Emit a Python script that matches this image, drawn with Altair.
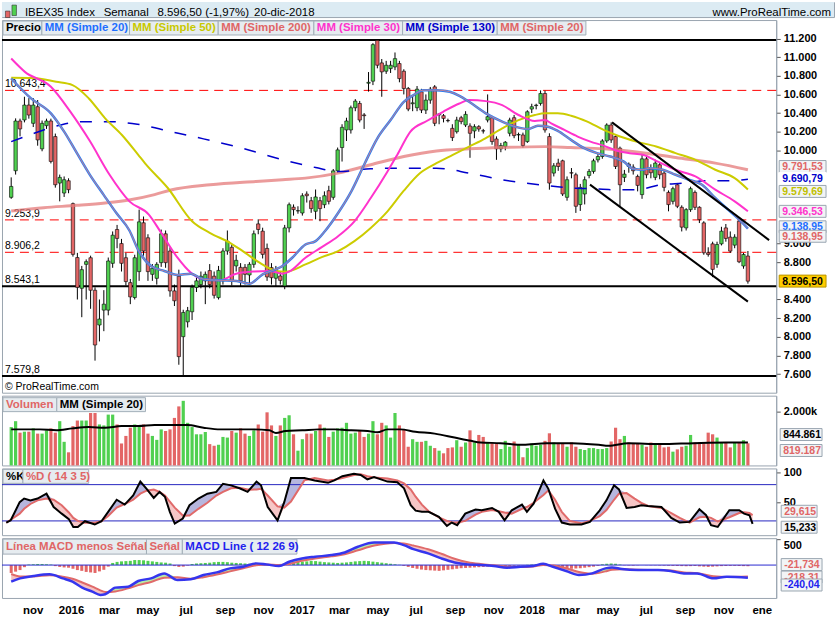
import altair as alt
import pandas as pd

FONT = "Liberation Sans"
W = 777
GREEN = "#50d050"
RED = "#e36666"
BASE = pd.Timestamp("2015-09-28")


def wk(i):
    return BASE + pd.Timedelta(days=7.0 * i)


# ---------------- weekly candles (IBEX35) ----------------
opens = [9496, 9781, 10315, 10326, 10486, 10290, 10468, 10016, 10265, 10315,
         10148, 9649, 9542, 9674, 9428, 8850, 8520, 8777, 8848, 8499,
         8126, 8286, 8286, 8788, 9151, 9000, 8848, 8581, 8421, 8699,
         9223, 9062, 8670, 8627, 8795, 9105, 8920, 8492, 8650, 8001,
         8160, 8268, 8528, 8560, 8600, 8710, 8650, 8420, 8600, 8920,
         8960, 8760, 8745, 8745, 8663, 8777, 9211, 9133, 8948, 8742,
         8628, 8652, 8545, 9168, 9390, 9350, 9328, 9531, 9460, 9346,
         9460, 9417, 9567, 9496, 9780, 10030, 10219, 10219, 10457, 10503,
         10380, 10720, 10742, 11180, 10938, 10849, 10877, 10895, 10931, 10849,
         10664, 10500, 10457, 10628, 10432, 10539, 10681, 10380, 10372, 10320,
         10236, 10200, 10350, 10272, 10261, 10208, 10254, 10210, 10325, 10350,
         10122, 10016, 10040, 10183, 10350, 10165, 10165, 10094, 10443, 10480,
         10503, 10610, 10148, 9756, 9863, 9888, 9496, 9760, 9738, 9418,
         9532, 9731, 9774, 9898, 9934, 10101, 10272, 10148, 10023, 9710,
         9852, 9820, 9720, 9525, 9909, 9800, 9710, 9845, 9756, 9549,
         9453, 9631, 9389, 9168, 9364, 9549, 9389, 9222, 8901, 8997,
         8777, 8997, 9168, 9069, 8983, 9240, 8759, 8866]
highs = [9710, 10343, 10340, 10575, 10560, 10560, 10540, 10320, 10340, 10340,
         10180, 9740, 9720, 9700, 9440, 8900, 8760, 8830, 8870, 8530,
         8400, 8500, 8850, 9130, 9200, 9050, 8900, 8620, 8880, 9364,
         9290, 9100, 8780, 8800, 9150, 9140, 8960, 8560, 8720, 8290,
         8320, 8560, 8640, 8700, 8700, 8780, 8700, 8760, 8950, 9140,
         8990, 8880, 8790, 8780, 8800, 9140, 9260, 9170, 9000, 8790,
         8760, 8700, 9200, 9440, 9420, 9400, 9540, 9560, 9500, 9580,
         9500, 9560, 9620, 9800, 10030, 10280, 10350, 10480, 10550, 10530,
         10400, 10840, 11150, 11184, 10980, 10960, 10960, 11050, 10960, 10870,
         10680, 10580, 10690, 10660, 10600, 10680, 10700, 10400, 10390, 10340,
         10280, 10360, 10370, 10420, 10290, 10280, 10270, 10230, 10600, 10370,
         10150, 10080, 10100, 10350, 10380, 10190, 10190, 10430, 10500, 10500,
         10643, 10640, 10183, 9863, 9910, 9900, 9720, 9810, 9760, 9640,
         9720, 9800, 9910, 9960, 10120, 10290, 10300, 10160, 10040, 9790,
         9870, 9850, 9740, 9960, 9930, 9850, 9900, 9870, 9780, 9570,
         9610, 9650, 9410, 9380, 9610, 9570, 9400, 9240, 8960, 9020,
         9020, 9180, 9210, 9130, 9100, 9270, 8900, 8920]
lows = [9480, 9740, 10150, 10300, 10340, 10250, 10050, 9990, 10230, 9860,
        9600, 9453, 9500, 9540, 8860, 8400, 8210, 8400, 8300, 7744,
        7950, 8060, 8230, 8740, 8950, 8700, 8550, 8350, 8400, 8600,
        8870, 8600, 8600, 8560, 8750, 8740, 8430, 8330, 7700, 7580,
        8100, 8180, 8480, 8520, 8350, 8520, 8410, 8400, 8560, 8880,
        8550, 8700, 8540, 8560, 8560, 8740, 9100, 8840, 8600, 8560,
        8540, 8560, 8510, 9120, 9300, 9320, 9300, 9440, 9330, 9260,
        9240, 9380, 9420, 9470, 9760, 9880, 10100, 10180, 10420, 10300,
        10230, 10630, 10700, 10880, 10575, 10820, 10830, 10860, 10730, 10600,
        10420, 10420, 10420, 10400, 10390, 10500, 10260, 10280, 10300, 10300,
        10100, 10180, 10280, 10250, 9920, 10130, 10200, 10180, 10300, 10060,
        9898, 9980, 10000, 10150, 10130, 10100, 10030, 10080, 10400, 10440,
        10480, 10190, 9578, 9720, 9780, 9510, 9460, 9700, 9329, 9350,
        9420, 9700, 9750, 9870, 9910, 10080, 10080, 9800, 9400, 9660,
        9760, 9740, 9560, 9480, 9700, 9700, 9680, 9690, 9560, 9346,
        9420, 9380, 9130, 9140, 9340, 9360, 9220, 8880, 8860, 8640,
        8740, 8980, 9020, 8900, 8950, 8790, 8730, 8570]
closes = [9613, 10315, 10230, 10486, 10379, 10486, 10112, 10290, 10315, 9881,
          9631, 9710, 9685, 9578, 8884, 8530, 8720, 8806, 8499, 7912,
          8190, 8350, 8813, 9090, 9055, 8788, 8592, 8428, 8848, 9233,
          8920, 8699, 8735, 8777, 9105, 8795, 8492, 8386, 7787, 8261,
          8280, 8530, 8600, 8650, 8670, 8560, 8445, 8712, 8920, 9026,
          8600, 8820, 8600, 8670, 8777, 9105, 9151, 8884, 8642, 8634,
          8720, 8605, 9168, 9417, 9364, 9353, 9513, 9513, 9375, 9500,
          9375, 9513, 9453, 9780, 10005, 10247, 10315, 10457, 10528, 10325,
          10372, 10730, 11134, 10913, 10842, 10913, 10913, 10984, 10770, 10664,
          10443, 10510, 10656, 10432, 10539, 10656, 10290, 10390, 10343, 10318,
          10137, 10325, 10308, 10386, 10183, 10254, 10229, 10208, 10361, 10094,
          10016, 10051, 10087, 10325, 10158, 10170, 10051, 10414, 10468, 10485,
          10610, 10219, 9649, 9834, 9827, 9532, 9685, 9756, 9400, 9603,
          9685, 9774, 9888, 9934, 10101, 10272, 10112, 9827, 9631, 9745,
          9827, 9781, 9624, 9909, 9738, 9760, 9863, 9738, 9603, 9418,
          9589, 9400, 9176, 9364, 9589, 9389, 9257, 8901, 8883, 8723,
          8990, 9133, 9055, 8919, 9069, 8805, 8883, 8596.5]
volume_k = [1418, 1636, 1212, 1248, 1248, 1370, 1176, 1176, 1297, 1370,
            1212, 1636, 873, 485, 1454, 1660, 1660, 1660, 1939, 1939,
            1515, 1479, 1879, 1879, 1515, 812, 1091, 1394, 1515, 1479,
            1515, 1176, 1091, 945, 1333, 1273, 1333, 1757, 2182, 2388,
            1576, 1418, 1151, 1151, 1236, 788, 727, 764, 1054, 1030,
            1273, 1212, 1370, 1176, 1091, 1297, 1515, 1248, 1963, 1479,
            1091, 1479, 1757, 1854, 1151, 545, 970, 1176, 1176, 1273,
            1515, 1394, 1054, 1248, 1370, 1394, 1576, 1176, 1212, 1273,
            1054, 1176, 1636, 1151, 1576, 1479, 1030, 1939, 1479, 1333,
            691, 970,
            873, 873, 909, 727, 642, 545, 448, 642, 667, 933,
            691, 848, 1297, 848, 1127, 1054, 848, 848, 812, 606,
            909, 691, 885, 788, 303, 642, 812, 727, 764, 909,
            1188, 848, 812, 812, 691, 848, 691, 606, 570, 642,
            642, 606, 606, 642, 885, 1394, 970, 1091, 848, 812,
            812, 764, 691, 848, 812, 764, 667, 691, 509, 594,
            691, 727, 1127, 848, 848, 812, 1212, 1151, 1030, 848,
            848, 667, 848, 848, 933, 819]
macd_hist = [-150, -125, -95, -40,
             10, 15, 20, 20, 15, 10,
             -20, -35, -45, -50,
             -70, -95, -110, -130, -140, -150, -120, -90,
             -30,
             40, 60, 70, 75, 80, 95, 95, 90, 80, 70, 60, 50, 45, 30,
             -20, -35, -30, -10,
             20, 30, 35, 40, 45, 55, 60, 60, 55, 45, 40, 35, 30, 25, 20, 15, 10,
             -5, -15, -20, -10, 10,
             40, 55, 60, 65, 70, 80, 75, 65, 55, 50, 45,
             40, 45, 50, 60, 70, 75, 80, 75, 65, 55, 45, 35, 25, 15, 5,
             -15, -35, -55, -70,
             -85, -95, -100, -105, -110, -100, -90, -80, -70, -60, -55, -50,
             -45, -40, -35, -30, -28, -25, -20, -18, -15, -12, -10, -5,
             5, 10, 15, 20, 10,
             -20, -40, -55, -65, -70, -70, -65, -60, -50, -40, -30, -15,
             15, 25, 30, 25, 10,
             -5, -8, -10, -5, 0, -3, -5, -5, -8,
             -10, -12, -15, -18, -20, -22, -20, -18, -25, -30, -35, -30, -25,
             -20, -18, -15, -15, -18, -20, -22]

# ---------------- moving averages (week index, value) ----------------
sma20_i = [0, 4.5, 9, 12, 14.9, 17.8, 21, 23.8, 26.8, 28.8, 31.7, 34.7, 37.7, 40.7, 43.6,
           47.3, 51.1, 54, 57, 60, 61.5, 63.7, 66.7, 69, 71.1, 74.1, 77.1, 80, 83, 86, 89,
           91.2, 93.4, 96.4, 99.4, 101.6, 103.8, 107.6, 111.3, 114.2, 117.2, 119.4, 121.7,
           123.9, 126.9, 129.9, 132.8, 135.8, 138.8, 141, 143.2, 144.7, 147.7, 150.6, 153.6,
           156.6, 159.6, 162.5, 164.8, 167]
sma20_v = [10771, 10557, 10397, 10201, 9970, 9740, 9520, 9330, 9140, 8930, 8759, 8706, 8663,
           8677, 8617, 8606, 8599, 8570, 8670, 8724, 8759, 8848, 8990, 9026, 9132, 9328, 9560,
           9845, 10129, 10325, 10521, 10593, 10646, 10646, 10628, 10585, 10521, 10397, 10308,
           10254, 10229, 10265, 10254, 10208, 10112, 10023, 9970, 9934, 9881, 9802, 9792, 9809,
           9792, 9738, 9685, 9631, 9489, 9364, 9268, 9161]
sma30_i = [0, 3.1, 9, 13.4, 17.9, 22.3, 26.8, 31.2, 34, 37.7, 40.7, 43.6, 47.3, 51, 54.8, 58.5,
           61.5, 63, 66.7, 70.4, 74.1, 77.8, 81.5, 85.3, 87.5, 90.5, 94.2, 97.9, 101.6, 103.8,
           107.6, 111.3, 115, 118.7, 121, 122.4, 125.4, 128.4, 131.3, 134.3, 137.3, 140.2,
           143.2, 146.2, 150.6, 155.1, 159.6, 164, 167]
sma30_v = [10985, 10842, 10682, 10415, 10094, 9738, 9453, 9311, 9115, 8848, 8688, 8617, 8606,
           8677, 8699, 8706, 8677, 8698, 8848, 8961, 9079, 9239, 9488, 9773, 9951, 10201, 10315,
           10414, 10503, 10539, 10528, 10485, 10379, 10315, 10325, 10290, 10219, 10148, 10094,
           10051, 9995, 9970, 9952, 9888, 9792, 9720, 9578, 9453, 9346]
sma50_i = [0, 5, 10.2, 13.9, 17.6, 21.3, 25.1, 28.8, 30.3, 35.5, 41, 45, 49.6, 52.5, 56.3, 60,
           62.2, 66.7, 70.4, 74.1, 77.8, 81.5, 85.3, 89, 92.7, 96.4, 100.1, 103.8, 107.5,
           111.3, 115, 118.7, 121, 123.9, 126.9, 130.6, 134.3, 138, 141.7, 146.2, 150.6,
           155.1, 159.6, 164, 167]
sma50_v = [10778, 10775, 10735, 10700, 10557, 10343, 10165, 9952, 9863, 9596, 9240, 9115, 9008,
           8919, 8795, 8706, 8698, 8776, 8855, 8919, 9026, 9168, 9346, 9567, 9756, 9862, 9951,
           10040, 10129, 10236, 10325, 10379, 10397, 10397, 10372, 10308, 10219, 10148, 10094,
           10041, 9970, 9898, 9792, 9702, 9580]
sma200_i = [0, 7.4, 14.9, 21.3, 27, 32.5, 36.2, 45.1, 55.5, 61.5, 66.7, 74.1, 81.5, 89, 96.4,
            103.8, 111.3, 121, 126.9, 134.3, 143.9, 150.6, 159.6, 167]
sma200_v = [9350, 9385, 9410, 9436, 9470, 9525, 9575, 9632, 9667, 9685, 9702, 9756, 9845, 9934,
            9994, 10016, 10030, 10040, 10030, 10016, 9970, 9923, 9863, 9792]
sma130_i = [0, 5.2, 11.2, 16.1, 22.3, 28.6, 36.2, 43.6, 51, 61.5, 69, 74.1, 81.5, 89, 96.4,
            103.8, 111.3, 121, 126.9, 131.3, 136.5, 141.7, 147.3, 152.5, 157.7, 162.9, 167]
sma130_v = [10094, 10183, 10272, 10308, 10308, 10280, 10201, 10123, 10041, 9899, 9816, 9773,
            9802, 9809, 9809, 9756, 9684, 9624, 9596, 9589, 9578, 9578, 9631, 9649, 9674, 9674,
            9690]

# volume moving average
vma_i = [0, 6.5, 10.2, 13.9, 17.6, 21.3, 25, 28.8, 32.5, 36.2, 39.9, 43.6, 47.4, 51.1, 54.8,
         58.5, 60, 62.2, 66, 69.7, 73.4, 77.1, 80.8, 83, 85.3, 88.2, 91.6, 96, 100.5, 104.2,
         106.4, 110.9, 116.1, 121.3, 127.2, 133.2, 135.4, 139.9, 147.3, 154.7, 162.2, 167]
vma_v = [1333, 1333, 1297, 1370, 1418, 1394, 1454, 1454, 1491, 1491, 1491, 1394, 1333, 1333,
         1333, 1297, 1200, 1273, 1297, 1333, 1333, 1297, 1273, 1224, 1333, 1333, 1248, 1176,
         1030, 909, 848, 824, 764, 824, 824, 764, 727, 824, 788, 824, 848, 845]

# stochastic %K / %D (14 3 5)
sto_i = [0, 1, 3, 4, 5.4, 7, 9, 10.6, 12.4, 14, 15, 16, 17.6, 19.8, 21.3, 22.8, 24.7, 26.5,
         28.4, 30, 31.4, 33, 34.3, 35.5, 36.6, 37.7, 39.5, 41, 43, 45, 47, 48.5, 50.3, 52.2,
         54, 56, 57, 58.5, 60.7, 62.2, 63.7, 66.7, 69, 72, 73.4, 75.2, 77.8, 79.3, 80.8, 82.3,
         85.3, 87.5, 89, 90.5, 91.6, 93, 94.5, 96.8, 98.6, 99.7, 100.9, 102.7, 105, 106.4,
         108.7, 110.2, 111.5, 113.1, 115.4, 116.5, 118, 120.2, 121.3, 122.8, 124.3, 126.1,
         128.7, 130.6, 132.8, 134.3, 136, 137.1, 138.8, 140.6, 142.1, 143.6, 146.6, 148.8,
         150.7, 152.9, 155.1, 156.6, 157.7, 159.2, 161.8, 164, 165.1, 166.3, 167]
sto_k = [17, 21, 51, 57, 54, 57, 65, 43, 32, 23, 10, 10, 19.5, 14, 19.5, 35, 55, 47, 62, 85,
         73, 58, 68, 60, 35, 15.6, 24, 46, 57, 65, 68, 81.5, 78.8, 74, 68, 85, 79, 43, 21, 51,
         91, 91, 87, 83, 87, 94, 98, 96, 88.6, 92.5, 85, 84, 74, 46, 37, 35, 35, 26.6, 11.8,
         17.3, 13, 32, 38.7, 37.6, 41.4, 35, 21, 37.6, 47, 35, 48.6, 87, 73, 40.3, 17.3, 14,
         14, 18.4, 37.6, 54, 78.8, 72, 41.4, 43, 45.8, 44.7, 43, 25, 17.3, 18.4, 39.2, 29.4,
         13, 10, 37.6, 37.6, 32, 29.4, 15.2]
sto_d = [17, 22, 32, 40, 48, 54, 57, 55, 46, 34, 25, 20, 17, 17, 19.5, 28, 42, 48, 55, 65,
         70, 72, 68, 62, 52, 42, 29, 29, 40, 50, 62, 68, 74, 75, 72, 72, 73, 62, 44, 42, 52,
         87, 91, 87, 88, 91, 96, 97, 94, 92, 90, 87, 82, 72, 60, 47, 36, 26, 20, 18, 17.5, 20,
         30.5, 35, 38, 36, 34, 32, 40, 43, 50, 63, 70.5, 55, 35, 20, 16, 20, 28, 38, 55, 65,
         66, 57, 50, 44.7, 41.4, 33, 25, 17.3, 26, 27, 25, 19, 26, 33, 34.5, 33, 29.6]

# MACD (12 26 9)
macd_i = [0, 2, 5, 8.7, 11.7, 13.9, 16.1, 18.4, 20.2, 21.3, 23.6, 26.5, 28.8, 31.7, 34.7,
          37.7, 40.7, 43.6, 46.6, 49.6, 52.6, 55.5, 57.8, 60.7, 63, 65.9, 68.9, 72.6, 75.6,
          78.6, 82.3, 86.8, 89, 91.2, 94.5, 97.5, 100.5, 103.5, 106.4, 109.4, 112.4, 115.4,
          118.3, 120.6, 122.8, 125.8, 128.7, 131.7, 134.7, 136.2, 138.4, 142.1, 146.6, 149.5,
          152.5, 155.5, 159.2, 162.2, 167]
macd_line = [-315, -252, -208, -176, -252, -315, -428, -504, -567, -554, -428, -410, -302,
             -252, -158, -284, -271, -189, -139, -63, -32, 32, 13, -19, 63, 126, 158, 189, 239,
             347, 428, 428, 378, 302, 221, 126, 50, 13, 0, -19, -50, -32, -19, 25, -32, -113,
             -189, -158, -63, -44, -76, -95, -95, -113, -158, -158, -252, -221, -240]
macd_signal = [-170, -215, -215, -195, -220, -260, -330, -410, -480, -510, -500, -440, -380,
               -320, -240, -230, -260, -230, -180, -120, -60, -5, 10, 0, 20, 80, 125, 165, 205,
               280, 370, 420, 410, 370, 300, 215, 120, 55, 20, -5, -30, -35, -25, 0, -10, -60,
               -130, -165, -120, -90, -80, -90, -95, -105, -140, -155, -210, -225, -218]

# horizontal levels (labelled on the left) and trend channel
level_v = [11184.4, 10643.4, 9253.9, 8906.2, 8543.1, 7579.8]
level_kind = ["solid", "dash", "dash", "dash", "solid", "solid"]
level_labelled = [False, True, True, True, True, True]
trend_i = [136.2, 171.8, 131.2, 167.0]
trend_p = [10300, 9037, 9632, 8377]
trend_g = ["upper", "upper", "lower", "lower"]

# price ticks whose labels are not hidden behind the last-value boxes
price_ticks = [11200, 11000, 10800, 10600, 10400, 10200, 10000, 9000, 8800, 8400, 8200, 8000,
               7800, 7600]

month_ticks = [(2015, 11), (2016, 1), (2016, 3), (2016, 5), (2016, 7), (2016, 9), (2016, 11),
               (2017, 1), (2017, 3), (2017, 5), (2017, 7), (2017, 9), (2017, 11), (2018, 1),
               (2018, 3), (2018, 5), (2018, 7), (2018, 9), (2018, 11), (2019, 1)]

n = len(opens)
for arr in (highs, lows, closes, volume_k, macd_hist):
    assert len(arr) == n, len(arr)

# ---------------- frames ----------------
cdf = pd.DataFrame({"date": [wk(i) for i in range(n)], "open": opens, "high": highs,
                    "low": lows, "close": closes, "vol": volume_k, "hist": macd_hist})


def series(idx, vals, name="v"):
    return pd.DataFrame({"date": [wk(i) for i in idx], name: vals})


ONE = pd.DataFrame({"k": [0]})

XS = alt.Scale(domain=[alt.DateTime(year=2015, month=9, date=21, hours=7),
                       alt.DateTime(year=2019, month=1, date=16)], nice=False)

AX = dict(orient="right", title=None, grid=False, tickSize=4, labelPadding=3,
          labelFontSize=11, labelFontWeight="bold", labelColor="black",
          domainColor="#9aa5b0", tickColor="#555555", labelFlush=False, labelOverlap=False)

x_axis = alt.Axis(values=[alt.DateTime(year=y, month=m, date=1) for y, m in month_ticks],
                  labelExpr="month(datum.value) == 0 ? (year(datum.value) < 2019 ? '' + year(datum.value) : 'ene') : ['ene','feb','mar','abr','may','jun','jul','ago','sep','oct','nov','dic'][month(datum.value)]",
                  ticks=False, domain=False, labelPadding=7, labelFontSize=11.5,
                  labelFontWeight="bold", labelColor="black", grid=False, title=None,
                  labelFlush=False, labelOverlap=False)


def xfac(axis):
    def f():
        return alt.X("date:T", scale=XS, axis=axis, title=None)
    return f


def yfac(domain, axis):
    sc = alt.Scale(domain=domain, nice=False, zero=False)

    def f(field):
        return alt.Y(f"{field}:Q", scale=sc, axis=axis, title=None)
    return f


xn = xfac(None)
xb = xfac(x_axis)
py = yfac([7400, 11398], alt.Axis(values=price_ticks,
                                  labelExpr="replace(format(datum.value, ','), ',', '.')", **AX))
vy = yfac([0, 2578], alt.Axis(values=[2000],
                              labelExpr="replace(format(datum.value, ','), ',', '.') + 'k'", **AX))
sy = yfac([-3.6, 106.8], alt.Axis(values=[50, 100], **AX))
my = yfac([-624, 510], alt.Axis(values=[500], labelOffset=7, **AX))


def rect(x0, x1, y0, y1, fill, stroke="#a3afb9", sw=1):
    return alt.Chart(ONE).mark_rect(fill=fill, stroke=stroke, strokeWidth=sw).encode(
        x=alt.value(x0), x2=alt.value(x1), y=alt.value(y0), y2=alt.value(y1))


def txt(x, y, text, color="black", size=11.5, weight="bold", align="left"):
    return alt.Chart(ONE).mark_text(text=text, color=color, font=FONT, fontSize=size,
                                    fontWeight=weight, align=align, baseline="middle").encode(
        x=alt.value(x), y=alt.value(y))


def legend(items, y0, y1):
    out = []
    for label, x0, x1, col in items:
        out.append(rect(x0, x1, y0, y1, "#e6ecf0"))
        out.append(txt(x0 + 3, (y0 + y1) / 2 + 0.5, label, col))
    return out


def vbox(y, text, color, fill="#f2f4f6", stroke="#9aa6b1", x0=780, x1=827, h=12):
    return [rect(x0, x1, y - h / 2, y + h / 2, fill, stroke),
            txt(x0 + 3, y + 0.5, text, color, size=10.5)]


def line(df, field, xf, yf, color, width, dash=None, opacity=1.0, interp="monotone"):
    kw = dict(color=color, strokeWidth=width, opacity=opacity, interpolate=interp)
    if dash:
        kw["strokeDash"] = dash
    return alt.Chart(df).mark_line(**kw).encode(x=xf(), y=yf(field))


# ---------------- header ----------------
header = alt.layer(
    rect(0, 835, 0, 15, "#dcebf3", "#dcebf3", 0),
    rect(3.5, 8, 9, 15.5, RED, "#333333", 0.6),
    rect(10, 14.5, 3, 13.5, GREEN, "#333333", 0.6),
    txt(23, 10.5, "IBEX35 Index", size=11.5, weight="normal"),
    txt(102, 10.5, "Semanal", size=11.5, weight="normal"),
    txt(156, 10.5, "8.596,50 (-1,97%)", size=11.5, weight="normal"),
    txt(253, 10.5, "20-dic-2018", size=11.5, weight="normal"),
    txt(832, 10.5, "www.ProRealTime.com", size=11.5, weight="normal", align="right"),
).properties(width=835, height=15)

# ---------------- price panel ----------------
lv = pd.DataFrame({"v": level_v, "kind": level_kind, "lab": level_labelled})
cb = alt.Chart(cdf).transform_calculate(dir="datum.close >= datum.open ? 'up' : 'down'")
dir_color = alt.Color("dir:N", scale=alt.Scale(domain=["up", "down"], range=[GREEN, RED]),
                      legend=None)

dash_lines = alt.Chart(lv).transform_filter("datum.kind == 'dash'").mark_rule(
    color="#ff0000", strokeWidth=1, strokeDash=[9, 6]).encode(y=py("v"))
solid_lines = alt.Chart(lv).transform_filter("datum.kind == 'solid'").mark_rule(
    color="black", strokeWidth=2).encode(y=py("v"))
level_text = alt.Chart(lv).transform_filter("datum.lab").transform_calculate(
    txt="replace(replace(replace(format(datum.v, ',.1f'), ',', '#'), '.', ','), '#', '.')"
).mark_text(align="left", baseline="middle", dy=-6, fontSize=10.5, font=FONT,
            color="black").encode(x=alt.value(3), y=py("v"), text="txt:N")

wicks = cb.mark_rule(color="black", strokeWidth=1).encode(x=xn(), y=py("low"), y2="high")
bodies = cb.mark_bar(width=3.4, stroke="black", strokeWidth=0.6).encode(
    x=xn(), y=py("open"), y2="close", color=dir_color)

tdf = pd.DataFrame({"date": [wk(i) for i in trend_i], "p": trend_p, "g": trend_g})
trend = alt.Chart(tdf).mark_line(color="black", strokeWidth=2).encode(
    x=xn(), y=py("p"), detail="g:N")

price_layers = [
    dash_lines, solid_lines, level_text, wicks, bodies,
    line(series(sma200_i, sma200_v), "v", xn, py, "#e47a7a", 3, opacity=0.75),
    line(series(sma130_i, sma130_v), "v", xn, py, "#0000cc", 1.5, dash=[12, 12]),
    line(series(sma50_i, sma50_v), "v", xn, py, "#cccc00", 2),
    line(series(sma30_i, sma30_v), "v", xn, py, "#ff33cc", 2),
    line(series(sma20_i, sma20_v), "v", xn, py, "#2f7ff0", 2.5),
    line(series(sma20_i, sma20_v), "v", xn, py, "#e68080", 1, opacity=0.8),
    trend,
    txt(3, 368, "© ProRealTime.com", size=10.5, weight="normal"),
]
price_layers += legend([("Precio", 1, 40, "black"), ("MM (Simple 20)", 40, 128, "#1f6fff"),
                        ("MM (Simple 50)", 128, 217, "#c8c800"),
                        ("MM (Simple 200)", 217, 313, "#e06666"),
                        ("MM (Simple 30)", 313, 402, "#ff33cc"),
                        ("MM (Simple 130)", 402, 497, "#0000cc"),
                        ("MM (Simple 20)", 497, 586, "#e06666")], 1, 15)
price_layers += vbox(147, "9.791,53", "#e06666")
price_layers += vbox(159, "9.690,79", "#0000cc", fill="white", stroke="white")
price_layers += vbox(172, "9.579,69", "#c0c000")
price_layers += vbox(192, "9.346,53", "#ff33cc")
price_layers += vbox(207.5, "9.138,95", "#1f6fff")
price_layers += vbox(217, "9.138,95", "#e06666")
price_layers += vbox(262, "8.596,50", "black", fill="#ffcc00", stroke="#b89400")
price = alt.layer(*price_layers).properties(width=W, height=374)

# ---------------- volume panel ----------------
vol_bars = cb.mark_bar(width=3.2).encode(x=xn(), y=vy("vol"), color=dir_color)
vol_layers = [vol_bars, line(series(vma_i, vma_v), "v", xn, vy, "black", 2)]
vol_layers += legend([("Volumen", 1, 55, "#e06666"), ("MM (Simple 20)", 55, 144, "black")], 2, 16)
vol_layers += vbox(39, "844.861", "black", x0=781, x1=823)
vol_layers += vbox(55, "819.187", "#e06666", x0=781, x1=823)
vol = alt.layer(*vol_layers).properties(width=W, height=70)

# ---------------- stochastic panel ----------------
sdf = pd.DataFrame({"date": [wk(i) for i in sto_i], "k": sto_k, "d": sto_d})
sb = alt.Chart(sdf).transform_calculate(hi="max(datum.k, datum.d)", lo="min(datum.k, datum.d)")
sto_layers = [
    sb.mark_area(color="#a9a9d8", opacity=0.85).encode(x=xn(), y=sy("d"), y2="hi"),
    sb.mark_area(color="#f5c0c0", opacity=0.9).encode(x=xn(), y=sy("d"), y2="lo"),
    alt.Chart(pd.DataFrame({"v": [20, 80]})).mark_rule(color="#2626c0", strokeWidth=1).encode(
        y=sy("v")),
    line(sdf, "d", xn, sy, "#e06a6a", 2, interp="linear"),
    line(sdf, "k", xn, sy, "black", 2, interp="linear"),
]
sto_layers += legend([("%K", 1, 21, "black"), ("%D ( 14 3 5)", 21, 87, "#e06666")], 1, 15)
sto_layers += vbox(43, "29,615", "#e06666", x0=782, x1=818)
sto_layers += vbox(59, "15,233", "black", x0=782, x1=818)
sto = alt.layer(*sto_layers).properties(width=W, height=67)

# ---------------- MACD panel ----------------
mdf = pd.DataFrame({"date": [wk(i) for i in macd_i], "m": macd_line, "s": macd_signal})
mb = alt.Chart(mdf).transform_calculate(hi="max(datum.m, datum.s)", lo="min(datum.m, datum.s)")
hb = alt.Chart(cdf).transform_calculate(sg="datum.hist >= 0 ? 'p' : 'n'")
macd_layers = [
    mb.mark_area(color="#b6eea6", interpolate="monotone").encode(x=xb(), y=my("s"), y2="hi"),
    mb.mark_area(color="#f5c0c0", interpolate="monotone").encode(x=xb(), y=my("s"), y2="lo"),
    hb.mark_bar(width=3).encode(
        x=xb(), y=my("hist"), y2=alt.datum(0),
        color=alt.Color("sg:N", scale=alt.Scale(domain=["p", "n"], range=[GREEN, RED]),
                        legend=None)),
    alt.Chart(pd.DataFrame({"v": [0]})).mark_rule(color="#2a2ad0", strokeWidth=1).encode(
        y=my("v")),
    line(mdf, "s", xb, my, "#e06a6a", 2),
    line(mdf, "m", xb, my, "#3535ee", 2.5),
]
macd_layers += legend([("Línea MACD menos Señal", 1, 145, "#e06666"),
                       ("Señal", 145, 181, "#e06666"),
                       ("MACD Line ( 12 26 9)", 181, 296, "#2222ee")], 1, 16)
macd_layers += vbox(39, "-218,31", "#e06666", x0=782, x1=823)
macd_layers += vbox(26.5, "-21,734", "#e06666", x0=782, x1=823)
macd_layers += vbox(47, "-240,04", "#2222ee", x0=782, x1=823)
macd = alt.layer(*macd_layers).properties(width=W, height=60)

chart = alt.vconcat(header, price, vol, sto, macd, spacing=3, bounds="flush").properties(
    padding={"left": 0, "top": 0, "right": 0, "bottom": 0}
).configure(background="white").configure_view(stroke="#9aa5b0", strokeWidth=1).configure_axis(
    labelFont=FONT)

chart.save("out.html", embed_options={"renderer": "svg", "actions": False})
